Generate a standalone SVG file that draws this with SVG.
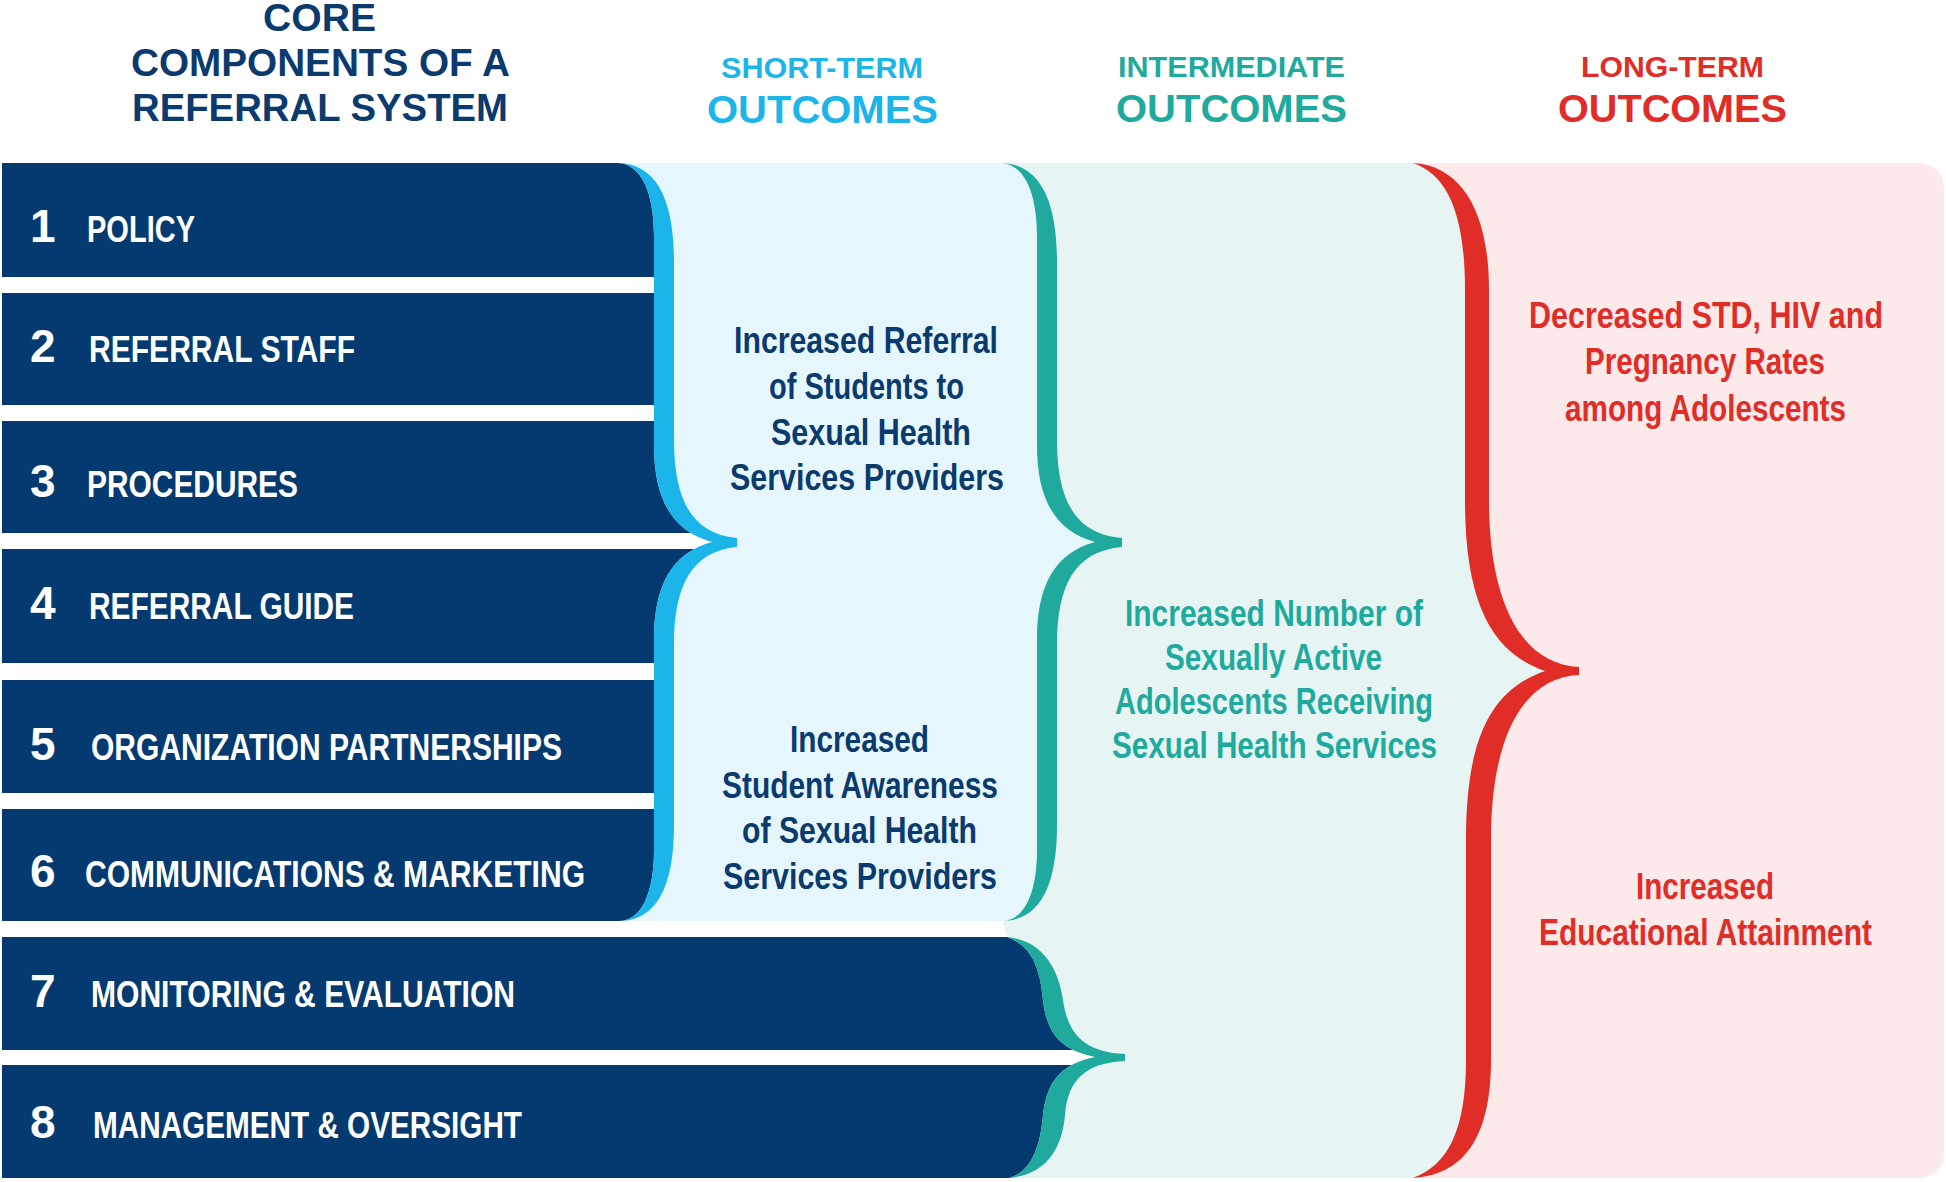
<svg xmlns="http://www.w3.org/2000/svg" width="1946" height="1182" viewBox="0 0 1946 1182">
<style>
text{font-family:"Liberation Sans",Arial,"DejaVu Sans",sans-serif;font-weight:bold}
.bar{fill:#043a6f}
.num{fill:#fff;font-size:46px}
.lbl{fill:#fff;font-size:37px}
.hn{fill:#0b3a6e;font-size:38px}
.hs{font-size:29px}
.hb{font-size:38px}
.cy{fill:#1bb5ea}
.tl{fill:#1faa9d}
.rd{fill:#e02d27}
.ot{font-size:36px}
.nv{fill:#0b3a6e}
</style>
<rect width="1946" height="1182" fill="#fff"/>

<g id="headers">
<text class="hn" x="263" y="31" textLength="113" lengthAdjust="spacingAndGlyphs">CORE</text>
<text class="hn" x="131" y="76" textLength="379" lengthAdjust="spacingAndGlyphs">COMPONENTS OF A</text>
<text class="hn" x="132" y="121" textLength="376" lengthAdjust="spacingAndGlyphs">REFERRAL SYSTEM</text>
<text class="hs cy" x="721" y="78" textLength="202" lengthAdjust="spacingAndGlyphs">SHORT-TERM</text>
<text class="hb cy" x="707" y="123" textLength="231" lengthAdjust="spacingAndGlyphs">OUTCOMES</text>
<text class="hs tl" x="1118" y="77" textLength="227" lengthAdjust="spacingAndGlyphs">INTERMEDIATE</text>
<text class="hb tl" x="1116" y="122" textLength="231" lengthAdjust="spacingAndGlyphs">OUTCOMES</text>
<text class="hs rd" x="1581" y="77" textLength="183" lengthAdjust="spacingAndGlyphs">LONG-TERM</text>
<text class="hb rd" x="1558" y="122" textLength="229" lengthAdjust="spacingAndGlyphs">OUTCOMES</text>
</g>

<g id="bar-backgrounds">
<rect class="bar" x="2" y="163" width="740" height="114"/>
<rect class="bar" x="2" y="293" width="740" height="112"/>
<rect class="bar" x="2" y="421" width="740" height="112"/>
<rect class="bar" x="2" y="549" width="740" height="114"/>
<rect class="bar" x="2" y="680" width="740" height="113"/>
<rect class="bar" x="2" y="809" width="740" height="112"/>
<rect class="bar" x="2" y="937" width="1100" height="113"/>
<rect class="bar" x="2" y="1065" width="1100" height="113"/>
</g>

<g id="short-term-panel">
<path fill="#e5f6fc" d="M618,163 L1100,163 L1100,921 L620,921 C641,920 654,894 654,850 L654,640 C654,585 672,553 712,542 C672,531 654,499 654,445 L654,236 C654,192 641,164 618,163 Z"/>
</g>

<g id="intermediate-panel">
<path fill="#e6f5f4" d="M1001,163 C1024,164 1037,192 1037,236 L1037,445 C1037,499 1055,531 1095,542 C1055,553 1037,585 1037,640 L1037,850 C1037,894 1024,920 1003,921 L1007,937 C1030,945 1040,965 1043,1000 C1047,1035 1062,1050 1095,1057 C1062,1064 1047,1080 1043,1115 C1040,1150 1030,1172 1009,1178 L1600,1178 L1600,163 Z"/>
</g>

<g id="long-term-panel">
<path fill="#fce9ea" d="M1413,163 L1916,163 Q1944,163 1944,191 L1944,1150 Q1944,1178 1916,1178 L1413,1178 C1448,1165 1466,1130 1466,1060 L1466,840 C1466,740 1490,690 1545,671 C1490,652 1465,600 1465,500 L1465,290 C1465,215 1448,175 1413,163 Z"/>
</g>

<g id="connectors">
<path class="cy" d="M618,163 C656,164 674,198 674,262 L674,440 C674,500 692,534 737,538 L737,547 C692,551 674,585 674,645 L674,825 C674,888 656,920 620,921 C641,920 654,894 654,850 L654,640 C654,585 672,553 712,542 C672,531 654,499 654,445 L654,236 C654,192 641,164 618,163 Z"/>
<path class="tl" d="M1001,163 C1039,164 1057,198 1057,262 L1057,440 C1057,500 1075,534 1122,538 L1122,547 C1075,551 1057,585 1057,645 L1057,825 C1057,888 1039,920 1003,921 C1024,920 1037,894 1037,850 L1037,640 C1037,585 1055,553 1095,542 C1055,531 1037,499 1037,445 L1037,236 C1037,192 1024,164 1001,163 Z"/>
<path class="tl" d="M1007,937 C1040,940 1058,965 1063,1000 C1068,1035 1085,1052 1125,1054 L1125,1061 C1085,1063 1068,1080 1065,1115 C1062,1150 1045,1175 1009,1178 C1030,1172 1040,1150 1043,1115 C1047,1080 1062,1064 1095,1057 C1062,1050 1047,1035 1043,1000 C1040,965 1030,945 1007,937 Z"/>
<path class="rd" d="M1413,163 C1462,166 1489,212 1489,290 L1489,500 C1489,600 1520,664 1579,667 L1579,675 C1520,678 1491,742 1491,840 L1491,1060 C1491,1140 1462,1175 1413,1178 C1448,1165 1466,1130 1466,1060 L1466,840 C1466,740 1490,690 1545,671 C1490,652 1465,600 1465,500 L1465,290 C1465,215 1448,175 1413,163 Z"/>
</g>

<g id="bar-1"><text class="num" x="30" y="242">1</text><text class="lbl" x="87" y="242" textLength="108" lengthAdjust="spacingAndGlyphs">POLICY</text></g>
<g id="bar-2"><text class="num" x="30" y="362">2</text><text class="lbl" x="89" y="362" textLength="266" lengthAdjust="spacingAndGlyphs">REFERRAL STAFF</text></g>
<g id="bar-3"><text class="num" x="30" y="497">3</text><text class="lbl" x="87" y="497" textLength="211" lengthAdjust="spacingAndGlyphs">PROCEDURES</text></g>
<g id="bar-4"><text class="num" x="30" y="619">4</text><text class="lbl" x="89" y="619" textLength="265" lengthAdjust="spacingAndGlyphs">REFERRAL GUIDE</text></g>
<g id="bar-5"><text class="num" x="30" y="760">5</text><text class="lbl" x="91" y="760" textLength="471" lengthAdjust="spacingAndGlyphs">ORGANIZATION PARTNERSHIPS</text></g>
<g id="bar-6"><text class="num" x="30" y="887">6</text><text class="lbl" x="85" y="887" textLength="500" lengthAdjust="spacingAndGlyphs">COMMUNICATIONS &amp; MARKETING</text></g>
<g id="bar-7"><text class="num" x="30" y="1007">7</text><text class="lbl" x="91" y="1007" textLength="424" lengthAdjust="spacingAndGlyphs">MONITORING &amp; EVALUATION</text></g>
<g id="bar-8"><text class="num" x="30" y="1138">8</text><text class="lbl" x="93" y="1138" textLength="429" lengthAdjust="spacingAndGlyphs">MANAGEMENT &amp; OVERSIGHT</text></g>

<g id="short-term-referral" class="ot nv">
<text x="734" y="353" textLength="264" lengthAdjust="spacingAndGlyphs">Increased Referral</text>
<text x="769" y="399" textLength="195" lengthAdjust="spacingAndGlyphs">of Students to</text>
<text x="771" y="445" textLength="200" lengthAdjust="spacingAndGlyphs">Sexual Health</text>
<text x="730" y="490" textLength="274" lengthAdjust="spacingAndGlyphs">Services Providers</text>
</g>
<g id="short-term-awareness" class="ot nv">
<text x="790" y="752" textLength="139" lengthAdjust="spacingAndGlyphs">Increased</text>
<text x="722" y="798" textLength="276" lengthAdjust="spacingAndGlyphs">Student Awareness</text>
<text x="742" y="843" textLength="235" lengthAdjust="spacingAndGlyphs">of Sexual Health</text>
<text x="723" y="889" textLength="274" lengthAdjust="spacingAndGlyphs">Services Providers</text>
</g>
<g id="intermediate-outcome" class="ot tl">
<text x="1125" y="626" textLength="298" lengthAdjust="spacingAndGlyphs">Increased Number of</text>
<text x="1165" y="670" textLength="217" lengthAdjust="spacingAndGlyphs">Sexually Active</text>
<text x="1115" y="714" textLength="318" lengthAdjust="spacingAndGlyphs">Adolescents Receiving</text>
<text x="1112" y="758" textLength="325" lengthAdjust="spacingAndGlyphs">Sexual Health Services</text>
</g>
<g id="long-term-rates" class="ot rd">
<text x="1529" y="328" textLength="354" lengthAdjust="spacingAndGlyphs">Decreased STD, HIV and</text>
<text x="1585" y="374" textLength="240" lengthAdjust="spacingAndGlyphs">Pregnancy Rates</text>
<text x="1565" y="421" textLength="281" lengthAdjust="spacingAndGlyphs">among Adolescents</text>
</g>
<g id="long-term-education" class="ot rd">
<text x="1636" y="899" textLength="138" lengthAdjust="spacingAndGlyphs">Increased</text>
<text x="1539" y="945" textLength="333" lengthAdjust="spacingAndGlyphs">Educational Attainment</text>
</g>
</svg>
